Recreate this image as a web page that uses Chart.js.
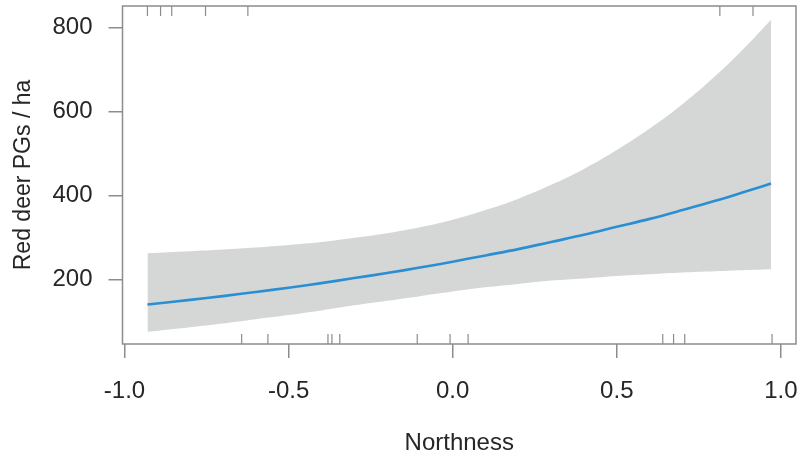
<!DOCTYPE html>
<html>
<head>
<meta charset="utf-8">
<script src="https://cdn.jsdelivr.net/npm/chart.js@4.4.1/dist/chart.umd.min.js"></script>
<style>
  html, body { margin: 0; padding: 0; background: #fff; }
  #wrap { width: 811px; height: 461px; }
</style>
</head>
<body>
<div id="wrap"><canvas id="chart" width="811" height="461"></canvas></div>
<script>
// Effect of northness on red deer pellet groups (fit + 95% band)
const northness = [-0.93, -0.8, -0.7, -0.6, -0.5, -0.4, -0.3, -0.2, -0.1, 0, 0.1, 0.2, 0.3, 0.4, 0.5, 0.6, 0.7, 0.8, 0.9, 0.97];
const fitValues = [140, 151, 160, 170, 180, 191, 203, 215, 228, 242, 257, 272, 289, 306, 325, 344, 365, 387, 411, 428];
const lowerValues = [75, 86, 95, 105, 115, 126, 138, 149, 160, 171, 181, 189, 197, 202, 208, 212, 216, 219, 222, 224];
const upperValues = [262, 267, 271, 276, 282, 289, 299, 310, 324, 342, 365, 392, 425, 463, 508, 559, 617, 684, 760, 818];

// rug marks (observations)
const rugTop = [-0.93, -0.89, -0.856, -0.753, -0.624, 0.814, 0.915];
const rugBottom = [-0.643, -0.563, -0.38, -0.368, -0.344, -0.108, -0.008, 0.047, 0.64, 0.673, 0.707, 0.973];

const xTicks = [-1.0, -0.5, 0.0, 0.5, 1.0];
const yTicks = [200, 400, 600, 800];

const FONT = "'Liberation Sans', Arial, sans-serif";
const TEXT = '#262626';
const AXIS = '#8c8c8c';

function toPoints(vals) {
  return northness.map((x, i) => ({ x: x, y: vals[i] }));
}

// box around plot area + rug ticks
const boxAndRug = {
  id: 'boxAndRug',
  afterDatasetsDraw(chart) {
    const { ctx, chartArea, scales } = chart;
    ctx.save();
    ctx.strokeStyle = AXIS;
    ctx.lineWidth = 1.5;
    ctx.strokeRect(chartArea.left, chartArea.top, chartArea.right - chartArea.left, chartArea.bottom - chartArea.top);
    ctx.lineWidth = 1.2;
    ctx.beginPath();
    rugTop.forEach(v => {
      const px = scales.x.getPixelForValue(v);
      ctx.moveTo(px, chartArea.top);
      ctx.lineTo(px, chartArea.top + 10);
    });
    rugBottom.forEach(v => {
      const px = scales.x.getPixelForValue(v);
      ctx.moveTo(px, chartArea.bottom);
      ctx.lineTo(px, chartArea.bottom - 10);
    });
    ctx.stroke();
    ctx.restore();
  }
};

new Chart(document.getElementById('chart'), {
  type: 'line',
  data: {
    datasets: [
      {
        label: 'fit',
        data: toPoints(fitValues),
        borderColor: '#2a8fd2',
        borderWidth: 2.6,
        pointRadius: 0,
        fill: false,
        order: 0,
        tension: 0.4
      },
      {
        label: 'upper',
        data: toPoints(upperValues),
        borderWidth: 0,
        pointRadius: 0,
        backgroundColor: '#d5d7d7',
        fill: '+1',
        order: 1,
        tension: 0.4
      },
      {
        label: 'lower',
        data: toPoints(lowerValues),
        borderWidth: 0,
        pointRadius: 0,
        fill: false,
        order: 2,
        tension: 0.4
      }
    ]
  },
  options: {
    responsive: false,
    animation: false,
    layout: { padding: { top: 6, right: 15, left: 0, bottom: 0 } },
    plugins: {
      legend: { display: false },
      tooltip: { enabled: false }
    },
    scales: {
      x: {
        type: 'linear',
        min: -1.006,
        max: 1.046,
        afterBuildTicks: scale => { scale.ticks = xTicks.map(v => ({ value: v })); },
        afterFit: scale => { scale.height = 117; scale.paddingLeft = 0; scale.paddingRight = 0; },
        border: { display: false },
        grid: { drawOnChartArea: false, drawTicks: true, tickLength: 14, color: AXIS, lineWidth: 1.5 },
        ticks: {
          padding: 19,
          color: TEXT,
          font: { family: FONT, size: 24 },
          maxRotation: 0,
          callback: v => v.toFixed(1)
        },
        title: {
          display: true,
          text: 'Northness',
          color: TEXT,
          font: { family: FONT, size: 24 },
          padding: { top: 0, bottom: 3 }
        }
      },
      y: {
        type: 'linear',
        min: 46,
        max: 851,
        afterBuildTicks: scale => { scale.ticks = yTicks.map(v => ({ value: v })); },
        afterFit: scale => { scale.width = 122.5; scale.paddingTop = 0; scale.paddingBottom = 0; },
        border: { display: false },
        grid: { drawOnChartArea: false, drawTicks: true, tickLength: 14, color: AXIS, lineWidth: 1.5 },
        ticks: {
          padding: 16,
          color: TEXT,
          font: { family: FONT, size: 24 }
        },
        title: {
          display: true,
          text: 'Red deer PGs / ha',
          color: TEXT,
          font: { family: FONT, size: 23 },
          padding: { top: 10, bottom: 0 }
        }
      }
    }
  },
  plugins: [boxAndRug]
});
</script>
</body>
</html>
